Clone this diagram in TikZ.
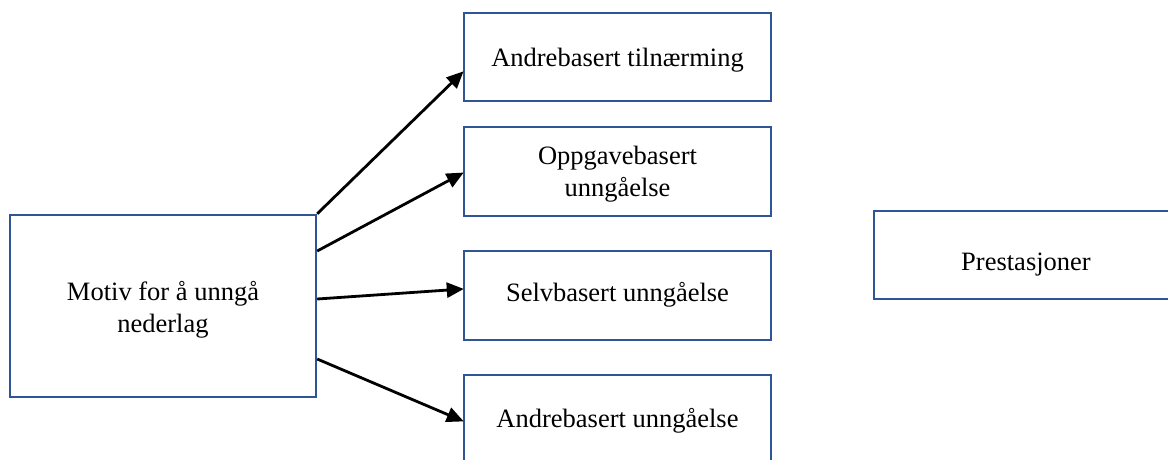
\documentclass[tikz,border=0pt]{standalone}
\usepackage{fontspec}
\setmainfont{Liberation Serif}
\usetikzlibrary{arrows.meta}
\definecolor{boxblue}{HTML}{2F5597}
% centred text block, lowered by #1 inside its box (extent kept as is)
\newcommand\boxtext[2]{\raisebox{-#1}[\height][\depth]{\begin{tabular}{@{}c@{}}#2\end{tabular}}}
\tikzset{
  box/.style={draw=boxblue, line width=2.4pt, fill=white,
    inner sep=0pt, font=\fontsize{26.5}{32}\selectfont},
  link/.style={draw=black, line width=2.8pt,
    -{Triangle[length=17pt,width=15pt]}, shorten >=-1pt}
}
\begin{document}
\begin{tikzpicture}[x=1pt,y=-1pt]
  \clip (0,0) rectangle (1168,459);
  \fill[white] (0,0) rectangle (1168,459);

  % source and target boxes
  \node[box, minimum width=306pt, minimum height=182pt] (motiv) at (163,306)
    {\boxtext{4.5pt}{Motiv for å unngå\\nederlag}};
  \node[box, minimum width=307pt, minimum height=88pt] (b1) at (617.5,57)
    {\boxtext{3pt}{Andrebasert tilnærming}};
  \node[box, minimum width=307pt, minimum height=89pt] (b2) at (617.5,171.5)
    {\boxtext{3pt}{Oppgavebasert\\unngåelse}};
  \node[box, minimum width=307pt, minimum height=89pt] (b3) at (617.5,295.5)
    {\boxtext{0pt}{Selvbasert unngåelse}};
  \node[box, minimum width=307pt, minimum height=89pt] (b4) at (617.5,419.5)
    {\boxtext{2pt}{Andrebasert unngåelse}};
  \node[box, minimum width=304pt, minimum height=88pt] (pres) at (1026,255)
    {\boxtext{9pt}{Prestasjoner}};

  % connectors
  \draw[link] (motiv.north east) -- ([yshift=-15pt]b1.west);
  \draw[link] ([yshift=55pt]motiv.east) -- ([yshift=-1.5pt]b2.west);
  \draw[link] ([yshift=7pt]motiv.east) -- ([yshift=6.5pt]b3.west);
  \draw[link] ([yshift=-53pt]motiv.east) -- ([yshift=-1.5pt]b4.west);
\end{tikzpicture}
\end{document}
